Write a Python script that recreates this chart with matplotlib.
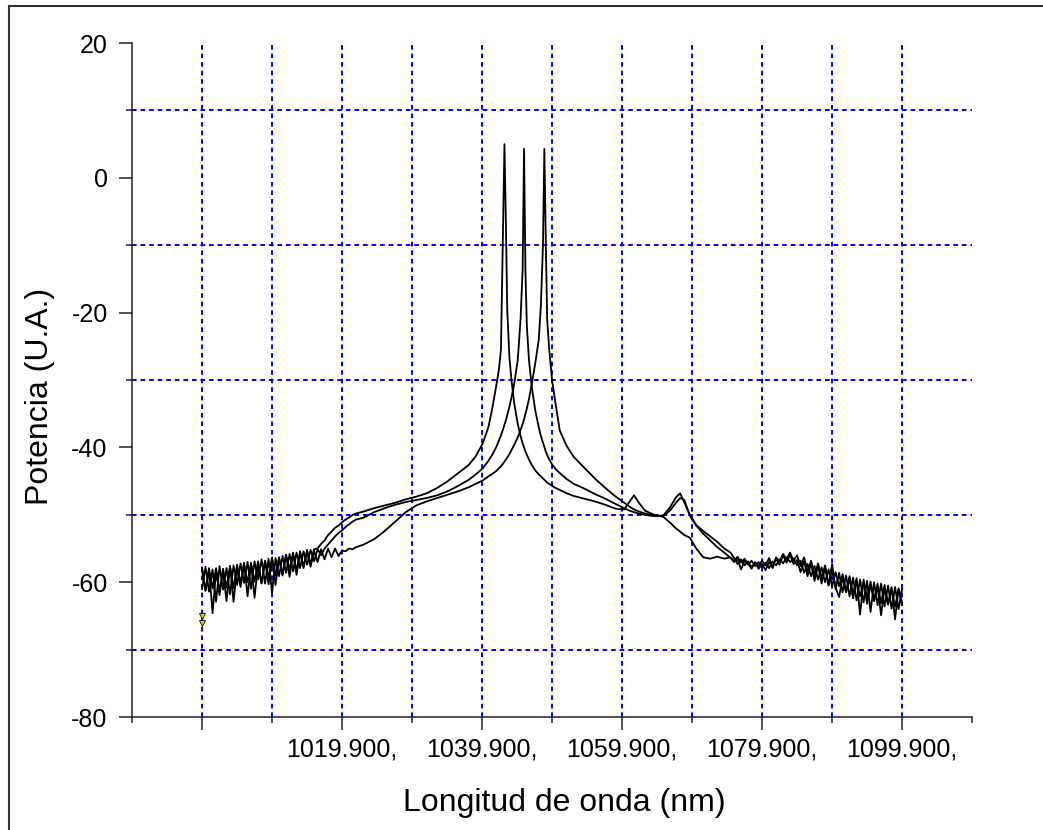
import matplotlib
matplotlib.use('Agg')
import matplotlib.pyplot as plt
from matplotlib.lines import Line2D
from matplotlib.ticker import FixedLocator, FuncFormatter

plt.rcParams['font.family'] = ['Liberation Sans', 'DejaVu Sans']
plt.rcParams['axes.unicode_minus'] = False

# Wavelength samples (nm), shared by the three spectra
wavelength = [
  # noisy left wing
  999.9, 1000.4, 1000.9, 1001.4, 1001.9, 1002.4, 1002.9, 1003.4, 1003.9, 1004.4,
  1004.9, 1005.4, 1005.9, 1006.4, 1006.9, 1007.4, 1007.9, 1008.4, 1008.9, 1009.4,
  1009.9, 1010.4, 1010.9, 1011.4, 1011.9, 1012.4, 1012.9, 1013.4, 1013.9, 1014.4,
  1014.9, 1015.4, 1015.9, 1016.4, 1016.9, 1017.4, 1017.9, 1018.4, 1018.9, 1019.4,
  1019.9, 1020.4, 1020.9, 1021.4, 1021.9,
  # rise towards the lines
  1023.0, 1024.5, 1026.0, 1027.5, 1029.0, 1030.5, 1032.0, 1033.5, 1035.0, 1036.5,
  1038.0, 1039.0, 1040.0,
  # laser lines
  1040.8, 1041.4, 1041.9, 1042.3, 1042.6, 1042.9, 1043.1, 1043.3, 1043.5, 1043.8,
  1044.1, 1044.5, 1045.0, 1045.4, 1045.7, 1045.9, 1046.1, 1046.3, 1046.6, 1047.0,
  1047.5, 1048.0, 1048.3, 1048.6, 1048.8, 1049.0, 1049.2, 1049.5, 1049.9, 1050.4,
  1051.0, 1052.0, 1053.0,
  # right shoulder with side bumps
  1054.5, 1056.0, 1057.5, 1059.0, 1060.2, 1061.0, 1061.6, 1062.3, 1063.2, 1064.5,
  1065.8, 1066.8, 1067.6, 1068.2, 1068.8, 1069.6, 1070.5, 1071.5, 1072.5, 1073.5,
  1074.5,
  # noisy right wing
  1075.4, 1075.9, 1076.4, 1076.9, 1077.4, 1077.9, 1078.4, 1078.9, 1079.4, 1079.9,
  1080.4, 1080.9, 1081.4, 1081.9, 1082.4, 1082.9, 1083.4, 1083.9, 1084.4, 1084.9,
  1085.4, 1085.9, 1086.4, 1086.9, 1087.4, 1087.9, 1088.4, 1088.9, 1089.4, 1089.9,
  1090.4, 1090.9, 1091.4, 1091.9, 1092.4, 1092.9, 1093.4, 1093.9, 1094.4, 1094.9,
  1095.4, 1095.9, 1096.4, 1096.9, 1097.4, 1097.9, 1098.4, 1098.9, 1099.4, 1099.9,
]

# Spectrum with the line at ~1043 nm
power_a = [
  -57.8, -61.3, -58.2, -60.9, -57.9, -61.2, -58.4, -62.8, -57.6, -60.9,
  -57.4, -60.2, -57.1, -62.1, -57.3, -59.9, -56.9, -60.1, -56.8, -60.3,
  -56.6, -59.0, -56.3, -58.8, -55.9, -59.2, -55.8, -58.3, -55.4, -57.9,
  -55.2, -57.3, -55.1, -55.0, -54.3, -53.8, -53.0, -52.5, -51.9, -51.6,
  -51.1, -50.7, -50.4, -50.0, -49.8,
  -49.5, -49.0, -48.6, -48.2, -47.7, -47.3, -46.8, -46.0, -45.0, -43.8,
  -42.6, -41.3, -39.4,
  -37.0, -34.0, -31.0, -28.5, -25.5, -7.0, 5.0, -6.5, -19.6, -26.5,
  -30.0, -33.5, -36.5, -38.3, -39.4, -40.0, -40.6, -41.1, -41.8, -42.6,
  -43.4, -44.0, -44.3, -44.6, -44.8, -45.0, -45.2, -45.4, -45.7, -46.0,
  -46.3, -46.8, -47.2,
  -47.6, -48.0, -48.5, -49.1, -49.2, -48.0, -47.1, -48.2, -49.4, -50.0,
  -50.3, -51.2, -52.0, -52.5, -53.0, -53.4, -55.0, -56.3, -56.5, -56.2,
  -56.5,
  -56.3, -56.9, -56.2, -57.1, -56.5, -57.4, -56.8, -57.6, -57.0, -57.8,
  -57.1, -57.9, -56.9, -57.5, -56.6, -57.2, -56.3, -57.0, -56.5, -57.5,
  -56.8, -58.6, -57.3, -59.1, -57.6, -59.6, -57.8, -60.0, -58.1, -60.6,
  -58.5, -60.6, -58.8, -61.3, -59.1, -61.8, -59.4, -64.8, -59.6, -62.4,
  -59.9, -62.7, -60.2, -63.1, -60.4, -63.3, -60.7, -65.5, -60.9, -63.0,
]

# Spectrum with the line at ~1046 nm
power_b = [
  -61.0, -57.7, -61.4, -58.1, -62.9, -57.6, -61.1, -57.9, -61.8, -57.5,
  -60.4, -57.2, -60.1, -57.0, -61.0, -56.9, -59.6, -56.6, -60.2, -56.5,
  -61.6, -56.4, -59.1, -56.1, -58.6, -55.8, -58.4, -55.6, -57.9, -55.4,
  -57.4, -55.2, -56.9, -55.1, -56.0, -55.0, -54.4, -53.8, -53.2, -52.7,
  -52.3, -51.8, -51.4, -51.0, -50.7,
  -50.4, -49.6, -49.0, -48.5, -48.1, -47.8, -47.5, -47.1, -46.5, -45.7,
  -44.8, -44.0, -43.1,
  -42.0, -41.0, -40.0, -39.0, -38.2, -37.3, -36.6, -36.0, -35.2, -34.0,
  -32.6, -30.5, -27.0, -21.0, -13.5, 4.3, -14.0, -22.0, -27.0, -31.0,
  -34.5, -37.0, -38.3, -39.3, -40.0, -40.6, -41.1, -41.8, -42.5, -43.2,
  -43.8, -44.7, -45.4,
  -46.1, -46.9, -47.6, -48.4, -49.0, -49.4, -49.6, -49.8, -50.0, -50.2,
  -50.1, -48.8, -47.4, -46.8, -48.2, -50.0, -51.5, -52.4, -53.2, -54.0,
  -55.0,
  -55.6, -56.4, -57.3, -56.6, -57.5, -56.9, -57.8, -57.1, -58.0, -57.3,
  -58.2, -57.0, -57.7, -56.5, -57.4, -56.0, -57.1, -55.9, -57.3, -56.7,
  -58.5, -56.9, -59.1, -57.2, -59.8, -57.5, -60.2, -57.8, -60.5, -57.3,
  -61.0, -58.6, -61.5, -59.0, -62.1, -59.3, -62.7, -59.6, -63.0, -59.8,
  -64.4, -60.0, -63.4, -60.2, -63.6, -60.5, -63.9, -60.7, -64.0, -61.0,
]

# Spectrum with the line at ~1049 nm
power_c = [
  -58.2, -61.2, -57.9, -64.6, -58.3, -61.9, -58.0, -60.8, -57.6, -62.9,
  -57.9, -60.7, -57.4, -60.0, -57.1, -62.3, -57.4, -60.2, -56.9, -59.3,
  -56.3, -60.4, -56.5, -59.0, -56.0, -58.1, -55.6, -58.9, -55.7, -57.6,
  -55.5, -57.7, -55.3, -57.0, -55.1, -56.6, -55.0, -56.3, -55.0, -56.1,
  -55.3, -55.4, -55.0, -55.1, -54.8,
  -54.4, -53.6, -52.4, -51.0, -49.6, -48.6, -48.0, -47.5, -47.0, -46.5,
  -45.9, -45.4, -44.9,
  -44.3, -43.9, -43.5, -43.1, -42.8, -42.4, -42.1, -41.8, -41.5, -41.0,
  -40.4, -39.6, -38.5, -37.4, -36.5, -35.8, -35.0, -34.2, -32.8, -30.6,
  -27.5, -24.0, -19.0, -10.0, 4.3, -9.0, -21.0, -25.5, -30.0, -33.5,
  -37.5, -39.8, -41.4,
  -43.0, -44.6, -46.0, -47.3, -48.2, -48.8, -49.2, -49.5, -49.8, -50.1,
  -50.2, -49.3, -48.2, -47.5, -47.8, -50.2, -51.6, -52.8, -53.8, -54.8,
  -55.6,
  -56.4, -57.0, -56.6, -58.1, -56.8, -57.2, -58.0, -57.0, -57.6, -56.8,
  -57.5, -56.4, -57.9, -56.3, -56.9, -55.8, -56.6, -55.6, -56.8, -56.0,
  -57.6, -56.3, -58.4, -56.8, -58.9, -57.2, -59.4, -57.5, -60.4, -58.1,
  -60.8, -62.2, -59.3, -61.5, -59.5, -62.4, -59.8, -62.1, -60.0, -63.2,
  -60.4, -62.8, -60.6, -64.9, -60.8, -63.3, -61.0, -63.6, -61.1, -63.4,
]

# off-scale markers at the first sample
start_wl = [999.9, 999.9]
start_marks = [-65.0, -66.1]

x_major = [999.9, 1019.9, 1039.9, 1059.9, 1079.9, 1099.9]
x_minor = [989.9, 1009.9, 1029.9, 1049.9, 1069.9, 1089.9, 1109.9]
y_major = [-80, -60, -40, -20, 0, 20]
y_minor = [-70, -50, -30, -10, 10]


def xfmt(v, pos):
  if v < 1000:
    return ''
  return f'{v:.3f},'


fig = plt.figure(figsize=(10.43, 8.30), dpi=100)
ax = fig.add_axes([0.1266, 0.1361, 0.8054, 0.8120])

for p in (power_a, power_b, power_c):
  ax.plot(wavelength, p, color='black', lw=1.3, zorder=3)
ax.plot(start_wl, start_marks, linestyle='none', marker='v', ms=4,
        mfc='#e6d200', mec='black', mew=0.6, zorder=4)

ax.set_xlim(989.9, 1109.9)
ax.set_ylim(-80, 20)

ax.xaxis.set_major_locator(FixedLocator(x_major))
ax.xaxis.set_minor_locator(FixedLocator(x_minor))
ax.xaxis.set_major_formatter(FuncFormatter(xfmt))
ax.yaxis.set_major_locator(FixedLocator(y_major))
ax.yaxis.set_minor_locator(FixedLocator(y_minor))

ax.tick_params(axis='both', which='both', direction='out', width=1.1, color='#222222',
               labelsize=18)
ax.tick_params(axis='x', which='major', length=9, pad=6)
ax.tick_params(axis='x', which='minor', length=4.5)
ax.tick_params(axis='y', which='major', length=9.5, pad=8)
ax.tick_params(axis='y', which='minor', length=4.5)

for side in ('top', 'right'):
  ax.spines[side].set_visible(False)
for side in ('left', 'bottom'):
  ax.spines[side].set_linewidth(1.1)
  ax.spines[side].set_color('#222222')

# blue dashed grid: every 10 nm in x, odd tens in y
grid_style = dict(color='#0000ff', linestyle=(0, (2.4, 2.0)), linewidth=1.4)
ax.grid(True, which='both', axis='x', **grid_style)
ax.grid(True, which='minor', axis='y', **grid_style)
ax.grid(False, which='major', axis='y')
minor_ticks = ax.xaxis.get_minor_ticks()
minor_ticks[0].gridline.set_visible(False)
minor_ticks[-1].gridline.set_visible(False)
ax.set_axisbelow(True)

ax.set_xlabel('Longitud de onda (nm)', fontsize=23)
ax.set_ylabel('Potencia (U.A.)', fontsize=23)
ax.xaxis.label.set_va('center')
ax.yaxis.label.set_va('center')
ax.xaxis.set_label_coords(0.515, -0.128)
ax.yaxis.set_label_coords(-0.1095, 0.475)

# frame around the picture (only top and left edges visible)
fig.add_artist(Line2D([0.0086, 0.0086], [0.0, 0.9928], color='#333333', lw=1.5))
fig.add_artist(Line2D([0.0086, 1.0], [0.9928, 0.9928], color='#333333', lw=1.5))

fig.savefig('out.png', dpi=100)
